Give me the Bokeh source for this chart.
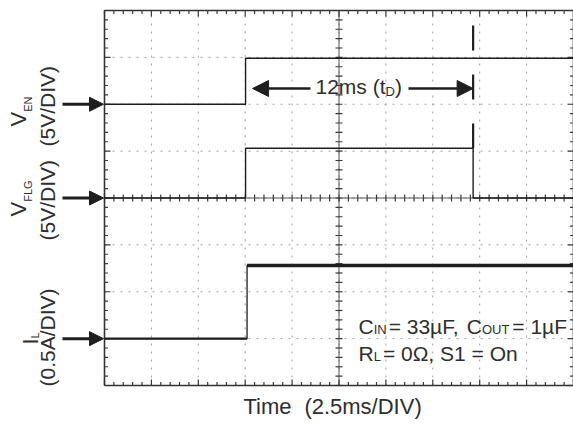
import numpy as np
from bokeh.plotting import figure
from bokeh.models import Range1d, Label, Arrow, NormalHead
from bokeh.embed import file_html
from bokeh.resources import INLINE

# ---------------- data ----------------
ms_per_div = 2.5
n_xdiv = 10
n_ydiv = 8
minor_per_div = 5

# channel scales (units per division) and screen offsets (divisions from bottom)
ven_scale, vflg_scale, il_scale = 5.0, 5.0, 0.5
ven_offset, vflg_offset, il_offset = 6.0, 4.0, 1.0

# V_EN (V)
ven_t = [0.0, 7.52, 7.52, 25.0]
ven_v = [0.0, 0.0, 4.9, 4.9]
# V_FLG (V)
vflg_t = [0.0, 7.52, 7.52, 19.65, 19.65, 25.0]
vflg_v = [0.0, 0.0, 5.3, 5.3, 0.0, 0.0]
# I_L (A)
il_t = [0.0, 7.6, 7.6, 25.0]
il_a = [0.0, 0.0, 0.78, 0.78]

td_start, td_end = 7.52, 19.65   # 12 ms delay marker

# ---------------- geometry ----------------
OX, OY = 0, 0                           # canvas origin in the photo
W, H = 573, 422
X0_REF, Y0_REF = 104.0, 385.0          # scope frame lower-left in page pixels
KX = 469.0 / (n_xdiv * ms_per_div)     # px per ms
KY = 375.0 / n_ydiv                    # px per div
t_end = n_xdiv * ms_per_div

def X(px):
    return (px - X0_REF) / KX

def Y(py):
    return (Y0_REF - py) / KY

p = figure(width=W, height=H, output_backend="svg", toolbar_location=None,
           x_axis_location=None, y_axis_location=None,
           x_range=Range1d(X(OX), X(OX + W)), y_range=Range1d(Y(OY + H), Y(OY)),
           min_border=0, min_border_left=0, min_border_right=0,
           min_border_top=0, min_border_bottom=0)
p.outline_line_color = None
p.xgrid.visible = False
p.ygrid.visible = False
p.background_fill_color = "white"

INK = "#1e1e1e"
TXT = "#2e2e2e"
FONT = "Liberation Sans"

# ---------------- graticule ----------------
gx = [i * ms_per_div for i in range(1, n_xdiv)]
gy = list(range(1, n_ydiv))
p.multi_line([[x, x] for x in gx], [[0, n_ydiv] for _ in gx],
             line_color="#a0a0a0", line_width=1, line_dash="2 6")
p.multi_line([[0, t_end] for _ in gy], [[y, y] for y in gy],
             line_color="#a0a0a0", line_width=1, line_dash="2 6")

xc, yc = t_end / 2, n_ydiv / 2
p.line([xc, xc], [0, n_ydiv], line_color="#555555", line_width=1)
p.line([0, t_end], [yc, yc], line_color="#555555", line_width=1)

mx = np.arange(0, n_xdiv * minor_per_div + 1) * ms_per_div / minor_per_div
my = np.arange(0, n_ydiv * minor_per_div + 1) / minor_per_div
is_mx = (np.arange(len(mx)) % minor_per_div) == 0
is_my = (np.arange(len(my)) % minor_per_div) == 0
tlx, tly = 3.5 / KX, 3.5 / KY
Tlx, Tly = 6.0 / KX, 6.0 / KY

xs, ys = [], []
for x, mj in zip(mx, is_mx):
    ly = Tly if mj else tly
    xs += [[x, x], [x, x], [x, x]]
    ys += [[n_ydiv, n_ydiv - ly], [0, ly], [yc - tly, yc + tly]]
for y, mj in zip(my, is_my):
    lx = Tlx if mj else tlx
    xs += [[0, lx], [t_end, t_end - lx], [xc - tlx, xc + tlx]]
    ys += [[y, y], [y, y], [y, y]]
p.multi_line(xs, ys, line_color="#3a3a3a", line_width=1.2)

# frame
p.line([0, t_end, t_end, 0, 0], [0, 0, n_ydiv, n_ydiv, 0],
       line_color="#333333", line_width=1.6)

# ---------------- traces ----------------
ven_y = [ven_offset + v / ven_scale for v in ven_v]
vflg_y = [vflg_offset + v / vflg_scale for v in vflg_v]
il_y = [il_offset + a / il_scale for a in il_a]

p.line(ven_t, ven_y, line_color=INK, line_width=1.4)
p.line(vflg_t, vflg_y, line_color=INK, line_width=1.4)
p.line(il_t, il_y, line_color=INK, line_width=1.3)
# thick (noisy) steady levels of I_L
seg_x0, seg_x1, seg_y = [], [], []
for i in range(len(il_t) - 1):
    if il_y[i] == il_y[i + 1]:
        seg_x0.append(il_t[i]); seg_x1.append(il_t[i + 1]); seg_y.append(il_y[i])
p.segment(seg_x0, seg_y, seg_x1, seg_y, line_color=INK,
          line_width=[2.2 if v == il_offset else 3.4 for v in seg_y])

# dashed delay marker
p.line([td_end, td_end], [Y(25), max(vflg_y)], line_color=INK,
       line_width=2.2, line_dash="25 24")

# ---------------- arrows ----------------
ya = Y(88)
p.add_layout(Arrow(end=NormalHead(size=16, fill_color=INK, line_color=INK),
                   x_start=X(310), y_start=ya, x_end=td_start + 7 / KX, y_end=ya,
                   line_color=INK, line_width=2.5))
p.add_layout(Arrow(end=NormalHead(size=16, fill_color=INK, line_color=INK),
                   x_start=X(408), y_start=ya, x_end=td_end, y_end=ya,
                   line_color=INK, line_width=2.5))
for off in (ven_offset, vflg_offset, il_offset):
    p.add_layout(Arrow(end=NormalHead(size=14, fill_color=INK, line_color=INK),
                       x_start=X(62), y_start=off, x_end=X(103), y_end=off,
                       line_color=INK, line_width=3))

# ---------------- text ----------------
AW = {' ': 278, '(': 333, ')': 333, '.': 278, ',': 278, '/': 278, '=': 584,
      'µ': 576, 'Ω': 768, 'A': 667, 'C': 722, 'D': 722, 'E': 667, 'F': 611,
      'G': 778, 'I': 278, 'L': 556, 'N': 722, 'O': 778, 'R': 722, 'S': 667,
      'T': 611, 'U': 722, 'V': 667, 'e': 556, 'i': 222, 'm': 833, 'n': 556,
      's': 500, 't': 278}

def text_w(s, size):
    return sum(AW.get(c, 556) for c in s) * size / 1000.0

BASE_FIX = 0.33   # empirical baseline correction (fraction of font size)

def runs(pieces, px0, py0, vertical=False):
    pos = 0.0
    for piece in pieces:
        if not isinstance(piece, tuple):
            pos += piece
            continue
        text, size, drop = piece
        fix = BASE_FIX * size
        if vertical:
            x, y, ang = px0 + drop - fix, py0 - pos, np.pi / 2
        else:
            x, y, ang = px0 + pos, py0 + drop - fix, 0.0
        p.add_layout(Label(x=X(x), y=Y(y), text=text, angle=ang,
                           text_font=FONT, text_font_size=f"{size}px",
                           text_color=TXT, text_align="left",
                           text_baseline="alphabetic"))
        pos += text_w(text, size)

# channel labels (rotated)
runs([("V", 22, 0), ("EN", 11, 6)], 25, 126, vertical=True)
runs([("(5V/DIV)", 21, 0)], 54, 146, vertical=True)
runs([("V", 22, 0), ("FLG", 11, 6)], 25, 216, vertical=True)
runs([("(5V/DIV)", 21, 0)], 54, 240, vertical=True)
runs([("I", 22, 0), ("L", 11, 1)], 37, 344, vertical=True)
runs([("(0.5A/DIV)", 21, 0)], 54, 386, vertical=True)

# delay label
runs([("12ms (t", 21, 0), ("D", 13, 2), (")", 21, 0)], 315, 93)

# conditions
runs([("C", 21, 0), ("IN", 13, 0), 2, ("= 33µF, ", 21, 0), ("C", 21, 0),
      ("OUT", 13, 0), 3, ("= 1µF", 21, 0)], 358, 333)
runs([("R", 21, 0), ("L", 13, 0), 2, ("= 0Ω, S1 = On", 21, 0)], 358, 360)

# time axis label
runs([("Time", 22, 0), 12, ("(2.5ms/DIV)", 22, 0)], 243, 413)

open("out.html", "w").write(file_html(p, INLINE))
